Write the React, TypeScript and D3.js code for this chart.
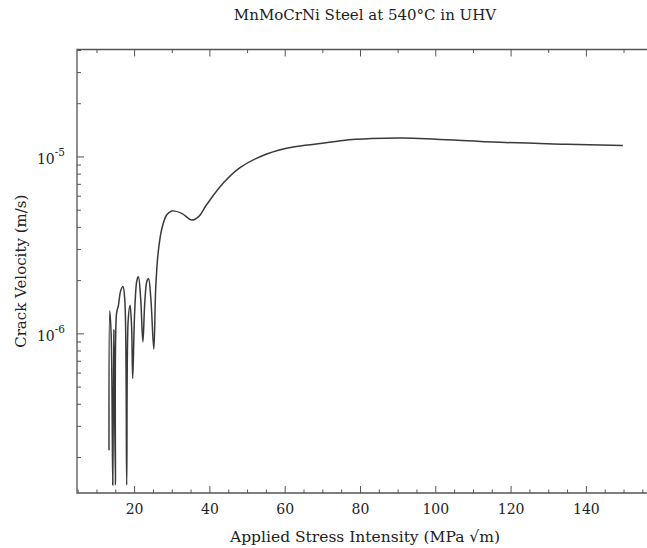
import React from 'react';
import * as d3 from 'd3';

const title = 'MnMoCrNi Steel at 540°C in UHV';
const xTitle = 'Applied Stress Intensity (MPa √m)';
const yTitle = 'Crack Velocity (m/s)';

// axis extents
const xDomain = [4.7, 156.1];
const yDomain = [1.26e-7, 4.05e-5];
const xLabelTicks = [20, 40, 60, 80, 100, 120, 140];
const yLabelTicks = [1e-6, 1e-5];
const yLabelExps = ['-6', '-5'];

// K (MPa sqrt m) and crack velocity (m/s)
const stressK = [
  13.2, 13.4, 13.8, 14.2, 14.5, 14.9, 15.2, 15.7, 16.3, 16.9, 17.4, 17.9, 18.3, 18.8,
  19.2, 19.5, 20.0, 20.6, 21.0, 21.6, 22.2, 22.7, 23.3, 23.7, 24.3, 25.1, 25.6, 26.2,
  27.2, 28.5, 29.9, 32.5, 35.2, 37.0, 39.2, 43.5, 48.0, 55.1, 62.1, 69.3, 75.4, 83.0,
  91.3, 100, 117.1, 134.9, 149.7,
];
const velocity = [
  2.2e-7, 1.35e-6, 9.5e-7, 1.4e-7, 1.05e-6, 1.4e-7, 1.3e-6, 1.45e-6, 1.75e-6, 1.85e-6,
  1.55e-6, 1.4e-7, 1.2e-6, 1.45e-6, 1.1e-6, 5.6e-7, 1.3e-6, 2.0e-6, 2.1e-6, 1.6e-6,
  9e-7, 1.5e-6, 2.0e-6, 2.05e-6, 1.6e-6, 8.2e-7, 1.8e-6, 2.8e-6, 3.9e-6, 4.7e-6,
  4.95e-6, 4.8e-6, 4.4e-6, 4.6e-6, 5.4e-6, 7.1e-6, 8.7e-6, 1.04e-5, 1.14e-5, 1.19e-5,
  1.24e-5, 1.27e-5, 1.28e-5, 1.26e-5, 1.21e-5, 1.18e-5, 1.16e-5,
];

const W = 647;
const H = 548;
const left = 77;
const right = 647;
const top = 49.5;
const bottom = 493;
const ink = '#3a3a3a';
const axisInk = '#555';
const textInk = '#222';
const font = '"DejaVu Serif", "Liberation Serif", serif';

export default function App() {
  const x = d3.scaleLinear().domain(xDomain).range([left, right]);
  const y = d3.scaleLog().domain(yDomain).range([bottom, top]);

  const pts: [number, number][] = stressK.map((k, i) => [k, velocity[i]]);
  const line = d3
    .line<[number, number]>()
    .x((d) => x(d[0]))
    .y((d) => y(d[1]))
    .curve(d3.curveCatmullRom.alpha(0.5));

  const bottomTicks = d3.range(5, xDomain[1], 5);
  const topTicks = d3.range(10, xDomain[1], 10);
  const yTicks = y.ticks().filter((t) => t > yDomain[0] && t < yDomain[1]);

  return (
    <svg
      width={W}
      height={H}
      style={{ position: 'absolute', left: 0, top: 0, background: '#fff' }}
      fontFamily={font}
    >
      <text x={365} y={20} textAnchor="middle" fontSize={15} fill={textInk}>
        {title}
      </text>

      {/* frame: top, left, bottom (no right edge) */}
      <path
        d={`M${right},${top}H${left}V${bottom}H${right}`}
        fill="none"
        stroke={axisInk}
        strokeWidth={1.3}
      />

      {bottomTicks.map((t) => {
        const major = t % 20 === 0;
        return (
          <line
            key={'b' + t}
            x1={x(t)}
            x2={x(t)}
            y1={bottom}
            y2={bottom - (major ? 7 : 3.5)}
            stroke={axisInk}
            strokeWidth={1}
          />
        );
      })}
      {topTicks.map((t) => {
        const major = t % 20 === 0;
        return (
          <line
            key={'t' + t}
            x1={x(t)}
            x2={x(t)}
            y1={top}
            y2={top + (major ? 7 : 3.5)}
            stroke={axisInk}
            strokeWidth={1}
          />
        );
      })}
      {yTicks.map((t, i) => {
        const major = Math.abs(Math.log10(t) - Math.round(Math.log10(t))) < 1e-6;
        return (
          <line
            key={'y' + i}
            x1={left}
            x2={left + (major ? 7 : 4)}
            y1={y(t)}
            y2={y(t)}
            stroke={axisInk}
            strokeWidth={1}
          />
        );
      })}

      {xLabelTicks.map((t) => (
        <text key={'xl' + t} x={x(t)} y={514} textAnchor="middle" fontSize={14} fill={textInk}>
          {t}
        </text>
      ))}
      {yLabelTicks.map((t, i) => (
        <text key={'yl' + i} x={65} y={y(t) + 7} textAnchor="end" fontSize={14} fill={textInk}>
          10
          <tspan dy={-8} fontSize={10.5}>
            {yLabelExps[i]}
          </tspan>
        </text>
      ))}

      <text x={365} y={542} textAnchor="middle" fontSize={15.5} fill={textInk}>
        {xTitle}
      </text>
      <text
        transform={`translate(26,${(top + bottom) / 2}) rotate(-90)`}
        textAnchor="middle"
        fontSize={15}
        fill={textInk}
      >
        {yTitle}
      </text>

      <path d={line(pts) ?? ''} fill="none" stroke={ink} strokeWidth={1.5} />
    </svg>
  );
}
